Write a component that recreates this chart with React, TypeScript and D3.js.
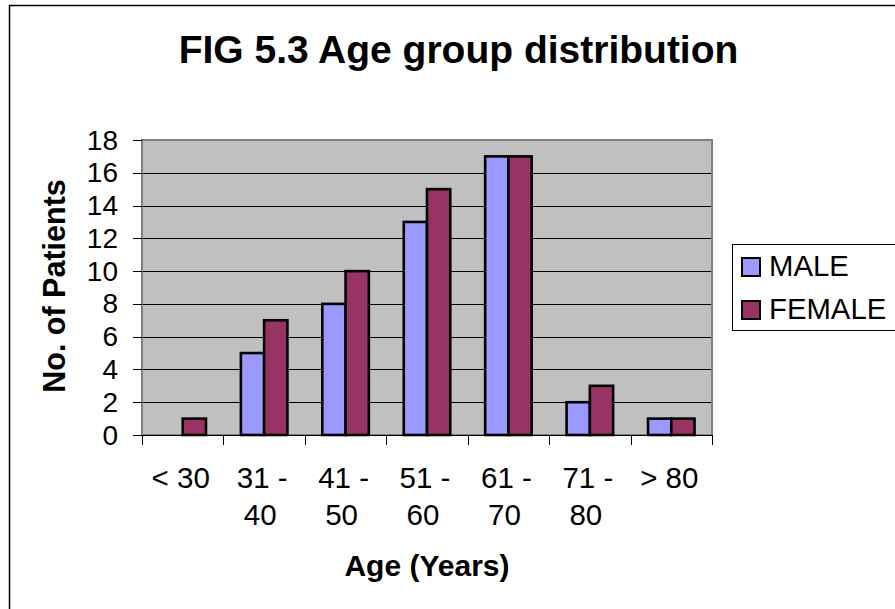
import React from "react";
import * as d3 from "d3";

const categories = ["< 30", "31 - 40", "41 - 50", "51 - 60", "61 - 70", "71 - 80", "> 80"];
const categoryLines = [["< 30"], ["31 -", "40"], ["41 -", "50"], ["51 -", "60"], ["61 -", "70"], ["71 -", "80"], ["> 80"]];
const seriesNames = ["MALE", "FEMALE"];
const maleValues = [0, 5, 8, 13, 17, 2, 1];
const femaleValues = [1, 7, 10, 15, 17, 3, 1];
const yTicks = [0, 2, 4, 6, 8, 10, 12, 14, 16, 18];
const seriesColors = ["#9999FF", "#993366"];

const W = 895;
const H = 609;
const plot = { left: 142, right: 712, top: 140, bottom: 435 };
const FONT = "'Liberation Sans', Arial, Helvetica, sans-serif";

export default function App() {
  const x = d3.scaleBand<string>().domain(categories).range([plot.left, plot.right]).padding(0);
  const xs = d3
    .scaleBand<string>()
    .domain(seriesNames)
    .range([0, x.bandwidth()])
    .paddingInner(0)
    .paddingOuter(0.75);
  const y = d3.scaleLinear().domain([0, 18]).range([plot.bottom, plot.top]);
  const series = [maleValues, femaleValues];
  const boundaries = categories.map((c) => x(c) as number).concat([plot.right]);

  return (
    <svg
      width={W}
      height={H}
      style={{ position: "absolute", left: 0, top: 0, background: "#fff" }}
      fontFamily={FONT}
    >
      <rect x={0} y={0} width={W} height={H} fill="#fff" />
      <rect x={9.5} y={5.5} width={W + 20} height={H + 20} fill="#fff" stroke="#000" strokeWidth={1.5} />
      <text x={458.5} y={63} textAnchor="middle" fontSize={39} fontWeight="bold" fill="#000">
        FIG 5.3 Age group distribution
      </text>

      {/* plot area */}
      <rect
        x={plot.left}
        y={plot.top}
        width={plot.right - plot.left}
        height={plot.bottom - plot.top}
        fill="#C0C0C0"
      />
      {yTicks
        .filter((t) => t > 0 && t < 18)
        .map((t) => (
          <line
            key={"g" + t}
            x1={plot.left}
            x2={plot.right}
            y1={Math.round(y(t)) + 0.5}
            y2={Math.round(y(t)) + 0.5}
            stroke="#000"
            strokeWidth={1.2}
          />
        ))}
      <rect
        x={plot.left}
        y={plot.top}
        width={plot.right - plot.left}
        height={plot.bottom - plot.top}
        fill="none"
        stroke="#808080"
        strokeWidth={2}
      />

      {/* bars */}
      {series.map((vals, si) =>
        vals.map((v, ci) =>
          v > 0 ? (
            <rect
              key={si + "-" + ci}
              x={(x(categories[ci]) as number) + (xs(seriesNames[si]) as number)}
              y={y(v)}
              width={xs.bandwidth()}
              height={plot.bottom - y(v)}
              fill={seriesColors[si]}
              stroke="#000"
              strokeWidth={2.6}
            />
          ) : null
        )
      )}

      {/* axes */}
      <line x1={plot.left} x2={plot.right} y1={plot.bottom + 0.5} y2={plot.bottom + 0.5} stroke="#000" strokeWidth={1.2} />
      {yTicks.map((t) => (
        <g key={"yt" + t}>
          <line
            x1={plot.left - 9}
            x2={plot.left}
            y1={Math.round(y(t)) + 0.5}
            y2={Math.round(y(t)) + 0.5}
            stroke="#000"
            strokeWidth={1}
          />
          <text x={118} y={y(t) + 9.5} textAnchor="end" fontSize={28} fill="#000">
            {t}
          </text>
        </g>
      ))}
      {boundaries.map((bx, i) => (
        <line
          key={"xt" + i}
          x1={Math.round(bx) + 0.5}
          x2={Math.round(bx) + 0.5}
          y1={plot.bottom}
          y2={plot.bottom + 10}
          stroke="#000"
          strokeWidth={1}
        />
      ))}
      {categories.map((c, i) => (
        <text
          key={"xl" + c}
          x={(x(c) as number) + x.bandwidth() / 2}
          y={488}
          textAnchor="middle"
          fontSize={29.5}
          fill="#000"
        >
          {categoryLines[i].map((ln, li) => (
            <tspan key={li} x={(x(c) as number) + x.bandwidth() / 2 - (li === 0 ? 2 : 4)} dy={li === 0 ? 0 : 37}>
              {ln}
            </tspan>
          ))}
        </text>
      ))}

      {/* axis titles */}
      <text x={(plot.left + plot.right) / 2} y={576} textAnchor="middle" fontSize={30} fontWeight="bold" fill="#000">
        Age (Years)
      </text>
      <text
        transform={`translate(65, 286) rotate(-90)`}
        textAnchor="middle"
        fontSize={30.5}
        fontWeight="bold"
        fill="#000"
      >
        No. of Patients
      </text>

      {/* legend */}
      <rect x={732.5} y={244.5} width={200} height={86} fill="#fff" stroke="#000" strokeWidth={1} />
      {seriesNames.map((s, i) => (
        <g key={"lg" + s}>
          <rect x={742} y={258 + i * 43} width={18} height={18} fill={seriesColors[i]} stroke="#000" strokeWidth={2} />
          <text x={769} y={276 + i * 43} fontSize={29.3} fill="#000">
            {s}
          </text>
        </g>
      ))}
    </svg>
  );
}
